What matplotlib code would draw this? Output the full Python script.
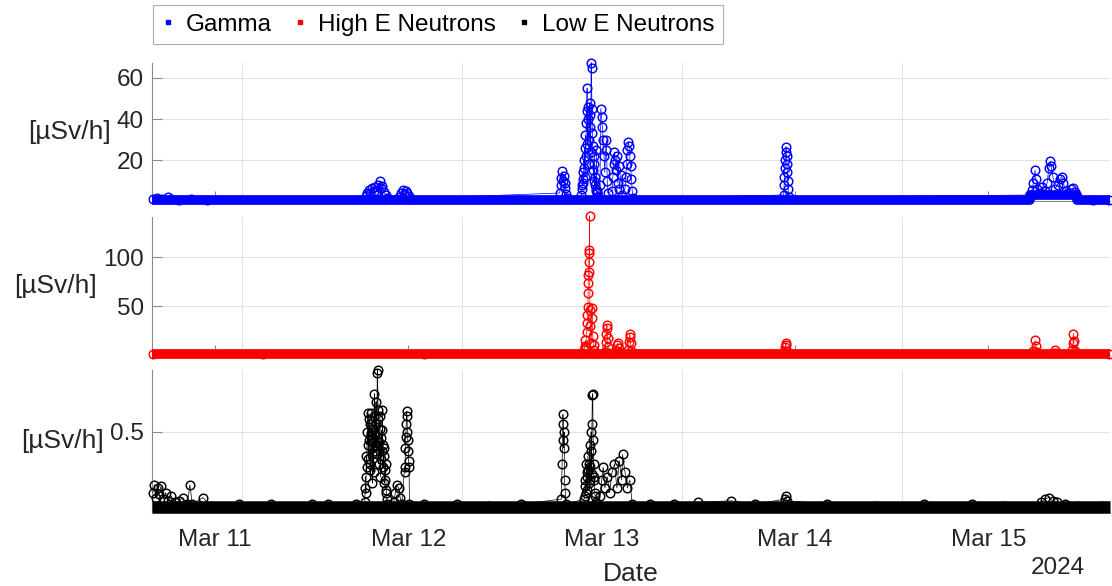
import matplotlib
matplotlib.use('Agg')
import matplotlib.pyplot as plt
from matplotlib.lines import Line2D

plt.rcParams['font.family'] = ['Liberation Sans', 'DejaVu Sans']

# 시간: 3월 10일 00:00 기준 경과 시간 [h], 선량률 [µSv/h]
gamma_hours = [16.3, 16.8, 17.4, 18.2, 18.6, 19.5, 21.0, 23.0,
               42.7, 42.9, 43.1, 43.3, 43.5, 43.7, 43.9, 44.1, 44.3, 44.5, 44.6, 44.8, 45.0, 45.2, 45.4,
               46.9, 47.1, 47.3, 47.5, 47.7, 47.9, 48.1, 48.3,
               66.8, 66.9, 67.0, 67.1, 67.2, 67.3, 67.4, 67.5, 67.6, 67.7,
               69.50, 69.55, 69.60, 69.65, 69.70, 69.75, 69.80, 69.85, 69.90, 69.95,
               70.00, 70.05, 70.10, 70.15, 70.20, 70.25, 70.30, 70.35, 70.40, 70.45,
               70.50, 70.55, 70.60, 70.65, 70.70, 70.75, 70.80, 70.85, 70.90, 70.95,
               71.00, 71.05, 71.10, 71.15, 71.20, 71.25, 71.30, 71.35, 71.40, 71.45, 71.50,
               71.8, 71.9, 72.0, 72.1, 72.2, 72.3, 72.4, 72.5, 72.6, 72.7, 72.8,
               73.3, 73.4, 73.5, 73.6, 73.7, 73.8, 73.9, 74.0, 74.1, 74.2, 74.4, 74.5,
               74.9, 75.0, 75.1, 75.2, 75.3, 75.4, 75.5, 75.6, 75.7, 75.8, 75.9,
               94.6, 94.65, 94.7, 94.75, 94.8, 94.85, 94.9, 94.95, 95.0, 95.05, 95.1, 95.15, 95.2,
               125.2, 125.4, 125.6, 125.8, 125.9, 126.1, 126.4, 126.7, 127.0, 127.3, 127.5, 127.7,
               127.8, 128.0, 128.3, 128.6, 128.9, 129.1, 129.3, 129.6, 129.9, 130.2, 130.5, 130.8, 131.0,
               133.0, 135.0]
gamma_dose = [1.2, 1.6, 1.0, 2.2, 1.1, 0.8, 1.2, 0.7,
              2.5, 4.0, 5.5, 3.8, 6.5, 4.8, 7.0, 5.2, 8.0, 9.8, 6.2, 7.5, 4.5, 3.0, 1.5,
              2.0, 4.0, 5.5, 3.5, 5.0, 4.2, 2.5, 1.2,
              4.0, 8.0, 11.5, 14.5, 10.0, 12.5, 6.5, 9.0, 3.5, 1.5,
              3.0, 6.0, 8.0, 11.0, 14.0, 9.0, 20.0, 16.0, 26.0, 12.0,
              32.0, 22.0, 38.0, 44.0, 55.0, 28.0, 46.0, 40.0, 30.0, 18.0,
              48.0, 36.0, 42.0, 24.0, 67.5, 65.0, 45.0, 33.0, 27.0, 15.0,
              18.0, 10.0, 22.0, 8.0, 12.0, 5.0, 6.0, 25.0, 4.0, 5.0, 2.0,
              8.0, 45.0, 41.0, 36.0, 30.0, 22.0, 14.0, 25.0, 30.0, 10.0, 4.0,
              5.0, 12.0, 18.0, 24.0, 20.0, 15.0, 22.0, 9.0, 17.0, 6.0, 13.0, 3.0,
              6.0, 12.0, 18.0, 25.0, 29.0, 27.0, 22.0, 17.0, 11.0, 5.0, 1.5,
              3.0, 8.0, 12.0, 16.0, 20.0, 24.0, 26.5, 22.0, 18.0, 14.0, 10.0, 6.0, 2.0,
              3.0, 5.5, 9.0, 15.0, 11.0, 6.0, 4.0, 7.0, 5.0, 9.0, 16.0, 19.5,
              17.0, 12.0, 6.0, 8.0, 11.0, 12.0, 9.0, 5.0, 4.0, 6.0, 6.5, 4.5, 2.0,
              0.8, 0.7]

high_hours = [16.3, 30.0, 50.0, 69.6, 69.8, 69.9, 70.0, 70.1, 70.15, 70.2, 70.25, 70.3, 70.32, 70.35,
              70.37, 70.4, 70.42, 70.45, 70.47, 70.5, 70.55, 70.6, 70.7, 70.8, 70.85, 70.9, 71.0,
              71.1, 71.3,
              72.4, 72.5, 72.6, 72.65, 72.7, 72.75, 72.8, 72.9,
              73.8, 73.9, 74.0, 74.1, 74.3,
              75.3, 75.4, 75.5, 75.55, 75.6, 75.7,
              94.7, 94.8, 94.85, 94.9, 95.0,
              125.6, 125.8, 125.9, 126.1, 128.2, 128.3, 128.5, 130.4, 130.5, 130.55, 130.6, 130.7,
              135.0]
high_dose = [1.0, 1.0, 1.0, 2.0, 5.0, 9.0, 15.0, 8.0, 24.0, 33.0, 41.0, 49.0, 63.0, 74.0,
             82.0, 85.0, 95.0, 104.0, 107.0, 142.0, 46.0, 30.0, 12.0, 48.0, 38.0, 20.0, 10.0,
             5.0, 2.0,
             3.0, 13.0, 22.0, 31.0, 28.0, 17.0, 8.0, 2.0,
             4.0, 10.0, 12.0, 7.0, 3.0,
             5.0, 13.0, 22.0, 18.0, 12.0, 4.0,
             3.0, 8.0, 12.0, 10.0, 4.0,
             4.0, 15.0, 9.0, 3.0, 2.0, 5.0, 2.0, 5.0, 12.0, 22.0, 14.0, 4.0,
             1.0]

low_hours = [16.3, 16.5, 16.7, 16.9, 17.1, 17.3, 17.6, 17.9, 18.2, 18.6, 19.0, 19.6, 20.0, 20.6,
             20.9, 21.2, 22.5, 23.5, 27.0, 31.0, 36.0, 38.0, 41.5,
             42.60, 42.65, 42.70, 42.75, 42.80, 42.85, 42.90, 42.95, 43.00, 43.05,
             43.10, 43.15, 43.20, 43.25, 43.30, 43.35, 43.40, 43.45, 43.50, 43.55,
             43.60, 43.65, 43.70, 43.75, 43.80, 43.85, 43.90, 43.95, 44.00, 44.05,
             44.10, 44.15, 44.20, 44.25, 44.30, 44.35, 44.40, 44.45, 44.50, 44.55,
             44.60, 44.65, 44.70, 44.75, 44.80, 44.85, 44.90, 44.95, 45.00, 45.05,
             45.10, 45.15, 45.20, 45.25, 45.30, 45.35, 45.40,
             46.2, 46.4, 46.6, 46.8, 47.0, 47.2,
             47.55, 47.60, 47.65, 47.70, 47.75, 47.80, 47.85, 47.90, 47.95, 48.00,
             48.05, 48.10, 48.15,
             50.0, 54.0, 58.0, 62.0,
             67.0, 67.1, 67.15, 67.2, 67.25, 67.3, 67.35, 67.4, 67.5, 67.6,
             69.85, 69.90, 69.95, 70.00, 70.05, 70.10, 70.15, 70.20, 70.25, 70.30,
             70.35, 70.40, 70.45, 70.50, 70.55, 70.60, 70.65, 70.70, 70.75, 70.80,
             70.85, 70.90, 70.95, 71.00, 71.05, 71.10, 71.15, 71.20, 71.30, 71.40,
             71.8, 72.0, 72.2, 72.4, 72.7, 73.0, 73.3, 73.6, 73.9, 74.2, 74.5, 74.6, 74.9, 75.2,
             75.5, 75.8,
             78.0, 81.0, 84.0, 88.0, 91.0, 94.8, 94.9, 95.0,
             100.0, 106.0, 112.0, 118.0, 122.0,
             126.5, 127.0, 127.5, 128.0, 128.5, 129.5, 131.0, 134.0]
low_dose = [0.12, 0.17, 0.09, 0.15, 0.11, 0.16, 0.08, 0.12, 0.07, 0.10, 0.06, 0.07, 0.09, 0.05,
            0.17, 0.05, 0.09, 0.04, 0.05, 0.05, 0.05, 0.05, 0.05,
            0.06, 0.15, 0.22, 0.12, 0.35, 0.28, 0.50, 0.42, 0.62, 0.33,
            0.45, 0.58, 0.55, 0.26, 0.30, 0.48, 0.62, 0.36, 0.40, 0.18,
            0.52, 0.44, 0.25, 0.60, 0.74, 0.38, 0.48, 0.55, 0.69, 0.42,
            0.36, 0.87, 0.89, 0.64, 0.58, 0.30, 0.44, 0.52, 0.60, 0.22,
            0.33, 0.46, 0.51, 0.38, 0.64, 0.42, 0.28, 0.35, 0.40, 0.18,
            0.20, 0.26, 0.30, 0.14, 0.12, 0.08, 0.05,
            0.06, 0.12, 0.17, 0.15, 0.09, 0.05,
            0.28, 0.25, 0.40, 0.47, 0.55, 0.63, 0.60, 0.50, 0.45, 0.38,
            0.32, 0.28, 0.05,
            0.05, 0.05, 0.04, 0.05,
            0.08, 0.30, 0.45, 0.61, 0.55, 0.40, 0.50, 0.20, 0.12, 0.05,
            0.08, 0.10, 0.16, 0.20, 0.12, 0.30, 0.22, 0.25, 0.14, 0.35,
            0.26, 0.18, 0.30, 0.42, 0.20, 0.28, 0.38, 0.50, 0.24, 0.55,
            0.73, 0.74, 0.45, 0.30, 0.22, 0.20, 0.12, 0.10, 0.06, 0.05,
            0.10, 0.20, 0.28, 0.15, 0.22, 0.12, 0.25, 0.30, 0.15, 0.32, 0.20, 0.36, 0.25, 0.15,
            0.20, 0.05,
            0.05, 0.05, 0.06, 0.07, 0.05, 0.08, 0.10, 0.07,
            0.05, 0.04, 0.05, 0.05, 0.04,
            0.06, 0.08, 0.09, 0.07, 0.06, 0.05, 0.04, 0.04]

# 배경 준위 (측정점이 촘촘히 겹쳐 두꺼운 띠로 보이는 부분)
gamma_floor_hours = [16.2, 125.2, 125.2, 131.0, 131.0, 135.1]
gamma_floor_dose = [0.5, 0.5, 3.0, 3.0, 0.5, 0.5]
high_floor_hours = [16.2, 135.1]
high_floor_dose = [0.8, 0.8]
low_floor_hours = [16.2, 135.1]
low_floor_dose = [0.03, 0.03]

day_ticks = [24, 48, 72, 96, 120]
day_labels = ['Mar 11', 'Mar 12', 'Mar 13', 'Mar 14', 'Mar 15']
grid_hours = [27.35, 54.67, 81.98, 109.3]

series = [
    ('Gamma', 'blue', gamma_hours, gamma_dose, gamma_floor_hours, gamma_floor_dose, 7,
     (0.1, 67.3), [20, 40, 60], ['20', '40', '60']),
    ('High E Neutrons', 'red', high_hours, high_dose, high_floor_hours, high_floor_dose, 7,
     (0.1, 141), [50, 100], ['50', '100']),
    ('Low E Neutrons', 'black', low_hours, low_dose, low_floor_hours, low_floor_dose, 9,
     (0.0, 0.8875), [0.5], ['0.5']),
]

fig = plt.figure(figsize=(11.12, 5.86), dpi=100)
rects = [
    [0.1367, 0.6570, 0.8615, 0.2355],
    [0.1367, 0.3942, 0.8615, 0.2355],
    [0.1367, 0.1263, 0.8615, 0.2423],
]

fs = 17.5
handles = []
axes = []
for rect, (name, col, t, v, ft, fv, flw, ylim, yt, ytl) in zip(rects, series):
    ax = fig.add_axes(rect)
    ax.plot(ft, fv, color=col, lw=flw, solid_capstyle='butt', clip_on=False, zorder=3)
    ax.plot(t, v, '-o', color=col, lw=0.5, ms=6.2, mfc='none', mew=1.05,
            clip_on=False, zorder=4)
    ax.set_xlim(16.2, 135.1)
    ax.set_ylim(*ylim)
    ax.set_yticks(yt)
    ax.set_yticklabels(ytl)
    ax.set_xticks(day_ticks)
    ax.set_xticks(grid_hours, minor=True)
    ax.grid(True, axis='y', color='#e2e2e2', lw=0.7)
    ax.grid(True, axis='x', which='minor', color='#e2e2e2', lw=0.7)
    ax.set_axisbelow(True)
    for s in ['top', 'right']:
        ax.spines[s].set_visible(False)
    for s in ['left', 'bottom']:
        ax.spines[s].set_color('#8a8a8a')
        ax.spines[s].set_linewidth(0.8)
    ax.tick_params(direction='in', length=7, width=0.8, color='#8a8a8a',
                   labelsize=fs, labelcolor='#262626', pad=6)
    ax.tick_params(axis='x', which='minor', length=0)
    ax.set_ylabel('[µSv/h]', rotation=0, ha='right', va='center',
                  fontsize=19, color='#262626', labelpad=4)
    ax.tick_params(axis='x', labelbottom=False)
    handles.append(Line2D([], [], ls='none', marker='s', ms=3.5, color=col, label=name))
    axes.append(ax)

axb = axes[-1]
axb.tick_params(axis='x', labelbottom=True, pad=12)
axb.set_xticklabels(day_labels)
axb.set_xlabel('Date', fontsize=19, color='#262626', labelpad=8)
fig.text(1085 / 1112, 1 - 568 / 586, '2024', ha='right', va='center',
         fontsize=fs, color='#262626')

leg = fig.legend(handles=handles, loc='upper left', ncol=3,
                 bbox_to_anchor=(153 / 1112, 1 - 5 / 586), fontsize=fs,
                 frameon=True, fancybox=False, edgecolor='#9a9a9a',
                 handlelength=0.5, handletextpad=0.5, columnspacing=0.9,
                 borderpad=0.35, borderaxespad=0)
leg.get_frame().set_linewidth(0.8)

fig.savefig('out.png', dpi=100)
